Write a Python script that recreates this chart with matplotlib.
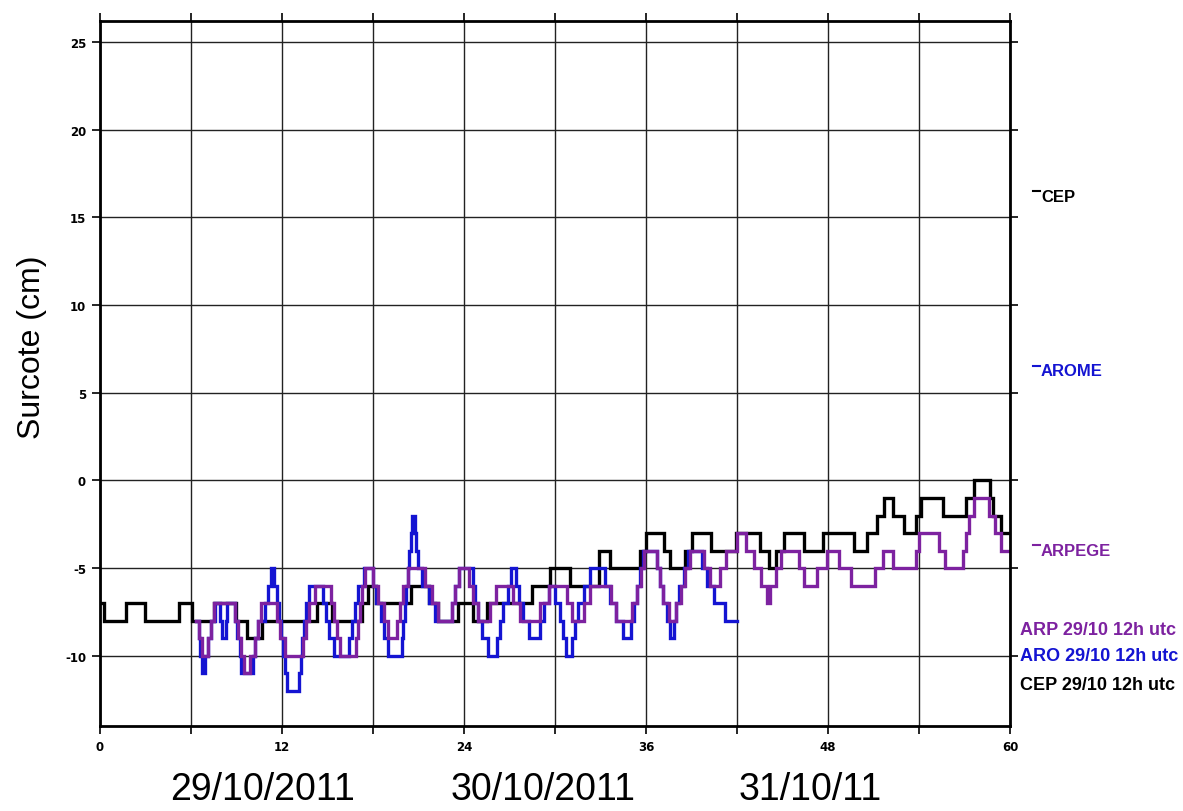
import numpy as np
import matplotlib
matplotlib.use('Agg')
from matplotlib import pyplot as plt
from matplotlib.lines import Line2D

plt.rcParams['axes.unicode_minus'] = False

# surge (cm) as (hour, level) change points, levels hold until the next hour
cep = [
    (0.0, -7), (0.25, -8), (1.7, -7), (3.0, -8), (5.2, -7), (6.1, -8),
    (7.5, -7), (9.0, -8), (9.7, -9), (10.7, -8), (14.3, -7), (15.3, -8),
    (17.3, -7), (17.7, -6), (18.2, -7), (20.5, -6), (21.7, -7), (22.3, -8),
    (23.6, -7), (24.6, -8), (25.5, -7), (28.5, -6), (29.7, -5), (31.0, -6),
    (32.9, -4), (33.6, -5), (35.6, -4), (36.0, -3), (37.2, -4), (37.6, -5),
    (38.6, -4), (39.0, -3), (40.3, -4), (41.9, -3), (43.5, -4), (44.1, -5),
    (44.6, -4), (45.1, -3), (46.4, -4), (47.7, -3), (49.7, -4), (50.6, -3),
    (51.2, -2), (51.7, -1), (52.3, -2), (53.0, -3), (53.8, -2), (54.1, -1),
    (55.6, -2), (57.1, -1), (57.6, 0), (58.7, -1), (58.9, -2), (59.4, -3),
    (60.0, -3),
]

arome = [
    (6.3, -8), (6.5, -9), (6.6, -10), (6.7, -11), (6.9, -10), (7.1, -9),
    (7.3, -8), (7.6, -7), (7.9, -8), (8.05, -9), (8.3, -8), (8.4, -7),
    (8.9, -8), (9.05, -9), (9.2, -10), (9.3, -11), (10.1, -10), (10.25, -9),
    (10.4, -8), (10.9, -7), (11.1, -6), (11.3, -5), (11.5, -6), (11.65, -7),
    (11.8, -8), (11.95, -9), (12.1, -10), (12.2, -11), (12.35, -12),
    (13.15, -11), (13.25, -10), (13.35, -9), (13.45, -8), (13.6, -7),
    (13.8, -6), (14.7, -7), (14.9, -8), (15.1, -9), (15.4, -10), (16.4, -9),
    (16.6, -8), (16.8, -7), (17.0, -6), (17.4, -5), (18.0, -6), (18.2, -7),
    (18.5, -8), (18.7, -9), (19.0, -10), (19.9, -9), (20.0, -8), (20.1, -7),
    (20.2, -6), (20.3, -5), (20.4, -4), (20.5, -3), (20.6, -2), (20.75, -3),
    (20.85, -4), (20.95, -5), (21.2, -6), (21.7, -7), (22.1, -8), (23.2, -7),
    (23.4, -6), (23.7, -5), (24.6, -6), (24.75, -7), (24.9, -8), (25.2, -9),
    (25.6, -10), (26.2, -9), (26.4, -8), (26.6, -7), (26.9, -6), (27.1, -5),
    (27.45, -6), (27.6, -7), (27.9, -8), (28.3, -9), (29.0, -8), (29.3, -7),
    (29.6, -6), (30.0, -7), (30.3, -8), (30.5, -9), (30.75, -10), (31.1, -9),
    (31.3, -8), (31.5, -7), (31.9, -6), (32.3, -5), (33.3, -6), (33.6, -7),
    (34.0, -8), (34.5, -9), (35.0, -8), (35.2, -7), (35.4, -6), (35.6, -5),
    (35.8, -4), (36.7, -5), (36.9, -6), (37.1, -7), (37.4, -8), (37.6, -9),
    (37.85, -8), (38.0, -7), (38.2, -6), (38.5, -5), (38.8, -4), (39.7, -5),
    (40.0, -6), (40.5, -7), (41.2, -8), (42.0, -8),
]

arpege = [
    (6.3, -8), (6.5, -9), (6.7, -10), (7.1, -9), (7.3, -8), (7.5, -7),
    (8.9, -8), (9.1, -9), (9.3, -10), (9.5, -11), (9.9, -10), (10.2, -9),
    (10.4, -8), (10.6, -7), (11.7, -8), (11.9, -9), (12.2, -10), (13.4, -9),
    (13.6, -8), (13.8, -7), (14.2, -6), (15.2, -7), (15.4, -8), (15.6, -9),
    (15.8, -10), (16.9, -9), (17.0, -8), (17.15, -7), (17.3, -6), (17.5, -5),
    (18.0, -6), (18.3, -7), (18.7, -8), (19.0, -9), (19.6, -8), (19.8, -7),
    (20.0, -6), (20.3, -5), (21.4, -6), (21.9, -7), (22.3, -8), (23.2, -7),
    (23.4, -6), (23.7, -5), (24.3, -6), (24.6, -7), (24.9, -8), (25.7, -7),
    (26.1, -6), (27.2, -7), (27.7, -8), (29.0, -7), (29.6, -6), (30.8, -7),
    (31.1, -8), (31.9, -7), (32.3, -6), (33.7, -7), (34.0, -8), (35.1, -7),
    (35.4, -6), (35.7, -5), (35.9, -4), (36.7, -5), (36.9, -6), (37.1, -7),
    (37.5, -8), (38.0, -7), (38.3, -6), (38.6, -5), (38.9, -4), (39.8, -5),
    (40.2, -6), (40.9, -5), (41.3, -4), (42.0, -3), (42.6, -4), (43.1, -5),
    (43.6, -6), (44.0, -7), (44.2, -6), (44.6, -5), (44.9, -4), (46.1, -5),
    (46.4, -6), (47.3, -5), (47.9, -4), (48.7, -5), (49.5, -6), (51.1, -5),
    (51.6, -4), (52.3, -5), (53.8, -4), (54.0, -3), (55.3, -4), (55.7, -5),
    (56.9, -4), (57.1, -3), (57.3, -2), (57.6, -1), (58.6, -2), (59.0, -3),
    (59.4, -4), (60.0, -4),
]

x_ticks = np.arange(0, 61, 6)
x_labels = ['0', '', '12', '', '24', '', '36', '', '48', '', '60']
y_ticks = np.arange(-10, 26, 5)
dates = ['29/10/2011', '30/10/2011', '31/10/11']

col_cep = '#000000'
col_aro = '#1414d2'
col_arp = '#7d22a0'

fig = plt.figure(figsize=(11.83, 8.12), dpi=100)
ax = fig.add_axes([0.0845, 0.1047, 0.7693, 0.8682])

for series, col in [(cep, col_cep), (arome, col_aro), (arpege, col_arp)]:
    t, v = np.array(series).T
    ax.plot(t, v, drawstyle='steps-post', color=col, lw=2.4,
            solid_joinstyle='miter')

ax.set_xlim(0, 60)
ax.set_ylim(-14, 26.2)
ax.set_xticks(x_ticks)
ax.set_xticklabels(x_labels)
ax.set_yticks(y_ticks)
ax.grid(True, color='#222222', lw=1.0)
ax.set_axisbelow(True)
for s in ax.spines.values():
    s.set_linewidth(2.0)
ax.tick_params(direction='out', length=6, width=1.2, top=True, right=True,
               labelsize=8.5, pad=4)
for lab in ax.get_xticklabels() + ax.get_yticklabels():
    lab.set_fontweight('bold')

fig.text(0.027, 0.572, 'Surcote (cm)', rotation=90, ha='center', va='center',
         fontsize=23, family='Liberation Sans')

for d, xc in zip(dates, [0.222, 0.459, 0.685]):
    fig.text(xc, 0.027, d, ha='center', va='center', fontsize=27,
             family='Liberation Sans')

# model names on the right with a short line sample
for name, col, yc in [('CEP', col_cep, 0.757), ('AROME', col_aro, 0.542),
                      ('ARPEGE', col_arp, 0.321)]:
    fig.add_artist(Line2D([0.873, 0.879], [yc + 0.006, yc + 0.006],
                          color=col, lw=1.5, transform=fig.transFigure))
    fig.text(0.880, yc, name, color=col, fontsize=12, fontweight='bold',
             ha='left', va='center', family='Liberation Sans')

for name, col, yc in [('ARP 29/10 12h utc', col_arp, 0.224),
                      ('ARO 29/10 12h utc', col_aro, 0.191),
                      ('CEP 29/10 12h utc', col_cep, 0.156)]:
    fig.text(0.862, yc, name, color=col, fontsize=13, fontweight='bold',
             ha='left', va='center', family='Liberation Sans')

plt.savefig('out.png', dpi=100)
